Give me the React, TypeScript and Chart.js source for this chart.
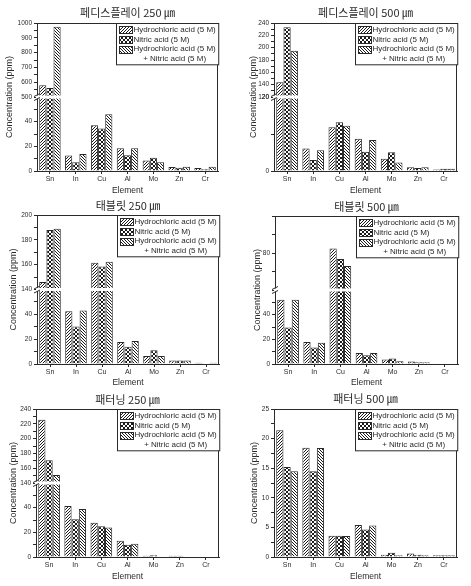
import React, { useEffect, useRef } from 'react';
import { Chart, registerables } from 'chart.js';

Chart.register(...registerables);

const elements = ['Sn', 'In', 'Cu', 'Al', 'Mo', 'Zn', 'Cr'];
const seriesLines = [
  ['Hydrochloric acid (5 M)'],
  ['Nitric acid (5 M)'],
  ['Hydrochloric acid (5 M)', '+ Nitric acid (5 M)'],
];

// 페디스플레이 250 ㎛
const display250HCl = [580, 12.5, 37, 18.5, 8.5, 3.2, 2.5];
const display250HNO3 = [560, 7, 34.5, 12.8, 10.7, 2.7, 1.5];
const display250Mix = [975, 13.7, 46, 18.5, 7, 3.5, 3.5];
// 페디스플레이 500 ㎛
const display500HCl = [144, 6.1, 11.8, 8.7, 3.3, 1.0, 0.4];
const display500HNO3 = [233, 3.0, 13.2, 5.2, 5.1, 0.8, 0.6];
const display500Mix = [195, 5.6, 12.2, 8.4, 2.3, 1.0, 0.6];
// 태블릿 250 ㎛
const tablet250HCl = [146, 42.5, 161.6, 17.8, 6.4, 2.8, 1];
const tablet250HNO3 = [188, 30.3, 158.5, 13.9, 11.1, 2.8, 0.5];
const tablet250Mix = [189, 43, 162.4, 18.6, 6.4, 2.8, 1];
// 태블릿 500 ㎛
const tablet500HCl = [52, 17.8, 82.5, 8.9, 3.6, 2, 0.5];
const tablet500HNO3 = [29.5, 13.3, 76.8, 7, 4.5, 1.5, 0.5];
const tablet500Mix = [52, 17.2, 73, 8.9, 2.2, 1.5, 0.5];
// 패터닝 250 ㎛
const pattern250HCl = [225.6, 41.3, 27.8, 13.2, 1, 1, 0.5];
const pattern250HNO3 = [170.7, 30.6, 25, 9.9, 1.5, 1, 0.5];
const pattern250Mix = [150.9, 39, 24, 10.7, 0.5, 0.5, 0.5];
// 패터닝 500 ㎛
const pattern500HCl = [21.4, 18.45, 3.6, 5.4, 0.4, 0.6, 0.3];
const pattern500HNO3 = [15.2, 14.5, 3.6, 4.65, 0.7, 0.4, 0.3];
const pattern500Mix = [14.5, 18.4, 3.55, 5.3, 0.3, 0.3, 0.3];

// axis ranges and tick labels
const display250LowRange = [0, 60];
const display250LowTicks = [0, 20, 40];
const display250HighRange = [500, 1000];
const display250HighTicks = [500, 600, 700, 800, 900, 1000];
const display500LowRange = [0, 20];
const display500LowTicks = [0, 20];
const display500HighRange = [120, 240];
const display500HighTicks = [120, 140, 160, 180, 200, 220, 240];
const tablet250LowRange = [0, 60];
const tablet250LowTicks = [0, 20, 40];
const tablet250HighRange = [140, 200];
const tablet250HighTicks = [140, 160, 180, 200];
const tablet500LowRange = [0, 60];
const tablet500LowTicks = [0, 20, 40];
const tablet500HighRange = [60, 100];
const tablet500HighTicks = [80];
const pattern250LowRange = [0, 60];
const pattern250LowTicks = [0, 20, 40];
const pattern250HighRange = [140, 240];
const pattern250HighTicks = [140, 160, 180, 200, 220, 240];
const pattern500Range = [0, 25];
const pattern500Ticks = [0, 5, 10, 15, 20, 25];

const SANS = '"Liberation Sans", Arial, sans-serif';
const KR = '"Noto Sans CJK KR", sans-serif';
const INK = '#2a2a2a';

type Axis = { range: number[]; step: number; labels: number[] };
type PanelCfg = {
  title: string;
  series: number[][];
  low: Axis;
  high?: Axis;
  pos: { x: number; y: number; w: number; h: number };
  area: { l: number; t: number; r: number; b: number };
  titleY: number;
  yTitleX: number;
  xTitlePad: number;
};

const panels: PanelCfg[] = [
  {
    title: '페디스플레이 250 ㎛',
    series: [display250HCl, display250HNO3, display250Mix],
    low: { range: display250LowRange, step: 10, labels: display250LowTicks },
    high: { range: display250HighRange, step: 50, labels: display250HighTicks },
    pos: { x: 0, y: 0, w: 235, h: 196 },
    area: { l: 37, t: 23, r: 218, b: 171 },
    titleY: 13, yTitleX: 10, xTitlePad: 0,
  },
  {
    title: '페디스플레이 500 ㎛',
    series: [display500HCl, display500HNO3, display500Mix],
    low: { range: display500LowRange, step: 10, labels: display500LowTicks },
    high: { range: display500HighRange, step: 10, labels: display500HighTicks },
    pos: { x: 235, y: 0, w: 236, h: 196 },
    area: { l: 39, t: 23, r: 222, b: 171 },
    titleY: 13.3, yTitleX: 18.5, xTitlePad: 0,
  },
  {
    title: '태블릿 250 ㎛',
    series: [tablet250HCl, tablet250HNO3, tablet250Mix],
    low: { range: tablet250LowRange, step: 10, labels: tablet250LowTicks },
    high: { range: tablet250HighRange, step: 10, labels: tablet250HighTicks },
    pos: { x: 0, y: 196, w: 235, h: 196 },
    area: { l: 37, t: 19, r: 219, b: 168 },
    titleY: 10, yTitleX: 13.3, xTitlePad: 4,
  },
  {
    title: '태블릿 500 ㎛',
    series: [tablet500HCl, tablet500HNO3, tablet500Mix],
    low: { range: tablet500LowRange, step: 10, labels: tablet500LowTicks },
    high: { range: tablet500HighRange, step: 10, labels: tablet500HighTicks },
    pos: { x: 235, y: 196, w: 236, h: 196 },
    area: { l: 40, t: 20, r: 223, b: 168 },
    titleY: 11.3, yTitleX: 22.7, xTitlePad: 4,
  },
  {
    title: '패터닝 250 ㎛',
    series: [pattern250HCl, pattern250HNO3, pattern250Mix],
    low: { range: pattern250LowRange, step: 10, labels: pattern250LowTicks },
    high: { range: pattern250HighRange, step: 10, labels: pattern250HighTicks },
    pos: { x: 0, y: 392, w: 235, h: 194 },
    area: { l: 36, t: 17, r: 219, b: 165 },
    titleY: 8, yTitleX: 13.3, xTitlePad: 4,
  },
  {
    title: '패터닝 500 ㎛',
    series: [pattern500HCl, pattern500HNO3, pattern500Mix],
    low: { range: pattern500Range, step: 2.5, labels: pattern500Ticks },
    pos: { x: 235, y: 392, w: 236, h: 194 },
    area: { l: 39, t: 17, r: 222, b: 165 },
    titleY: 7.3, yTitleX: 19.3, xTitlePad: 4,
  },
];

function makePattern(kind: number): CanvasPattern {
  const s = kind === 1 ? 4 : 3;
  const c = document.createElement('canvas');
  c.width = s;
  c.height = s;
  const g = c.getContext('2d')!;
  g.fillStyle = '#ffffff';
  g.fillRect(0, 0, s, s);
  g.fillStyle = '#1a1a1a';
  for (let i = 0; i < s; i++) {
    if (kind === 0 || kind === 1) g.fillRect(i, s - 1 - i, 1, 1);
    if (kind === 2 || kind === 1) g.fillRect(i, i, 1, 1);
  }
  return g.createPattern(c, 'repeat')!;
}

function buildConfig(cfg: PanelCfg): any {
  const patterns = [makePattern(0), makePattern(1), makePattern(2)];
  const broken = !!cfg.high;
  const lowMax = cfg.low.range[1];
  const datasets: any[] = [];
  cfg.series.forEach((vals, i) => {
    datasets.push({
      data: vals.map((v) => (broken ? Math.min(v, lowMax) : v)),
      yAxisID: 'yLow',
      stack: 's' + i,
      backgroundColor: patterns[i],
      borderColor: INK,
      borderWidth: 1,
    });
    if (cfg.high) {
      const hMin = cfg.high.range[0];
      datasets.push({
        data: vals.map((v) => (v > hMin ? [hMin, v] : null)),
        yAxisID: 'yHigh',
        stack: 's' + i,
        backgroundColor: patterns[i],
        borderColor: INK,
        borderWidth: 1,
      });
    }
  });

  const gridOpts = {
    display: true,
    drawOnChartArea: false,
    drawTicks: true,
    tickLength: 3,
    offset: false,
    color: INK,
  };

  const yAxis = (ax: Axis, weight: number) => ({
    type: 'linear',
    position: 'left',
    min: ax.range[0],
    max: ax.range[1],
    beginAtZero: false,
    stacked: false,
    weight,
    ...(broken ? { stack: 'y', stackWeight: 1 } : {}),
    grid: gridOpts,
    border: { display: true, color: INK, width: 1 },
    ticks: {
      stepSize: ax.step,
      autoSkip: false,
      padding: 2,
      color: INK,
      font: { family: SANS, size: 6.5 },
      callback: (v: number) => (ax.labels.includes(v) ? String(v) : ''),
    },
    afterFit: (s: any) => {
      s.width = cfg.area.l;
    },
  });

  const scales: any = {
    x: {
      type: 'category',
      offset: true,
      grid: gridOpts,
      border: { display: true, color: INK, width: 1 },
      ticks: {
        color: INK,
        font: { family: SANS, size: 7 },
        padding: 1,
        autoSkip: false,
        maxRotation: 0,
      },
      title: {
        display: true,
        text: 'Element',
        color: INK,
        font: { family: SANS, size: 8.5 },
        padding: { top: 0, bottom: cfg.xTitlePad },
      },
      afterFit: (s: any) => {
        s.height = cfg.pos.h - cfg.area.b;
      },
    },
    yLow: yAxis(cfg.low, 1),
  };
  if (cfg.high) scales.yHigh = yAxis(cfg.high, 2);

  const framePlugin = {
    id: 'frame',
    afterDatasetsDraw(chart: any) {
      const { ctx, chartArea: a } = chart;
      ctx.save();
      // frame
      ctx.strokeStyle = INK;
      ctx.lineWidth = 1;
      ctx.strokeRect(Math.round(a.left) + 0.5, Math.round(a.top) + 0.5,
        Math.round(a.right - a.left) - 1, Math.round(a.bottom - a.top));
      // axis break
      if (broken) {
        const mid = chart.scales.yLow.top;
        ctx.fillStyle = '#ffffff';
        ctx.fillRect(a.left - 1, mid - 1.5, a.right - a.left, 3);
        ctx.beginPath();
        ctx.moveTo(a.left - 3, mid - 0.5);
        ctx.lineTo(a.left + 3, mid - 3.5);
        ctx.moveTo(a.left - 3, mid + 3.5);
        ctx.lineTo(a.left + 3, mid + 0.5);
        ctx.stroke();
      }
      // y title
      ctx.save();
      ctx.translate(cfg.yTitleX, (a.top + a.bottom) / 2);
      ctx.rotate(-Math.PI / 2);
      ctx.fillStyle = INK;
      ctx.font = `9px ${SANS}`;
      ctx.textAlign = 'center';
      ctx.textBaseline = 'middle';
      ctx.fillText('Concentration (ppm)', 0, 0);
      ctx.restore();
      // legend
      ctx.font = `8px ${SANS}`;
      let maxW = 0;
      seriesLines.forEach((lns) => lns.forEach((t) => {
        maxW = Math.max(maxW, ctx.measureText(t).width);
      }));
      const textX0 = 17;
      const rowH = 9.7;
      const nRows = seriesLines.reduce((n, l) => n + l.length, 0);
      const boxW = textX0 + maxW + 3;
      const boxH = rowH * nRows + 2.5;
      const bx = Math.round(a.right - boxW) + 0.5;
      const by = Math.round(a.top) + 0.5;
      ctx.fillStyle = '#ffffff';
      ctx.fillRect(bx, by, boxW, boxH);
      ctx.strokeStyle = INK;
      ctx.strokeRect(bx, by, boxW, boxH);
      let row = 0;
      ctx.textBaseline = 'middle';
      seriesLines.forEach((lns, i) => {
        const cy = by + 6.3 + row * rowH;
        ctx.fillStyle = patterns[i];
        ctx.fillRect(bx + 3, Math.round(cy - 3.5), 13, 7);
        ctx.strokeStyle = INK;
        ctx.strokeRect(bx + 3, Math.round(cy - 3.5) + 0.5, 13, 7);
        ctx.fillStyle = INK;
        lns.forEach((t, j) => {
          const ty = by + 6.3 + row * rowH;
          if (j === 0) {
            ctx.textAlign = 'left';
            ctx.fillText(t, bx + textX0, ty);
          } else {
            ctx.textAlign = 'center';
            ctx.fillText(t, bx + textX0 + maxW / 2, ty);
          }
          row++;
        });
      });
      ctx.restore();
    },
  };

  return {
    type: 'bar',
    data: { labels: elements, datasets },
    plugins: [framePlugin],
    options: {
      responsive: false,
      animation: false,
      devicePixelRatio: 1,
      events: [],
      datasets: { bar: { categoryPercentage: 0.83, barPercentage: 1 } },
      layout: {
        autoPadding: false,
        padding: { left: 0, top: 0, bottom: 0, right: cfg.pos.w - cfg.area.r },
      },
      plugins: {
        legend: { display: false },
        tooltip: { enabled: false },
        title: {
          display: true,
          text: cfg.title,
          fullSize: false,
          color: INK,
          font: { family: KR, size: 11, weight: 'normal', lineHeight: 1.2 },
          padding: { top: cfg.titleY - 6.6, bottom: cfg.area.t - cfg.titleY - 6.6 },
        },
      },
      scales,
    },
  };
}

function Panel({ cfg }: { cfg: PanelCfg }) {
  const ref = useRef<HTMLCanvasElement>(null);
  useEffect(() => {
    const chart = new Chart(ref.current!, buildConfig(cfg));
    return () => chart.destroy();
  }, [cfg]);
  return (
    <canvas
      ref={ref}
      width={cfg.pos.w}
      height={cfg.pos.h}
      style={{ position: 'absolute', left: cfg.pos.x, top: cfg.pos.y, width: cfg.pos.w, height: cfg.pos.h }}
    />
  );
}

export default function App() {
  return (
    <div style={{ position: 'fixed', left: 0, top: 0, width: 471, height: 586, background: '#ffffff', overflow: 'hidden' }}>
      {panels.map((p, i) => (
        <Panel key={i} cfg={p} />
      ))}
    </div>
  );
}
